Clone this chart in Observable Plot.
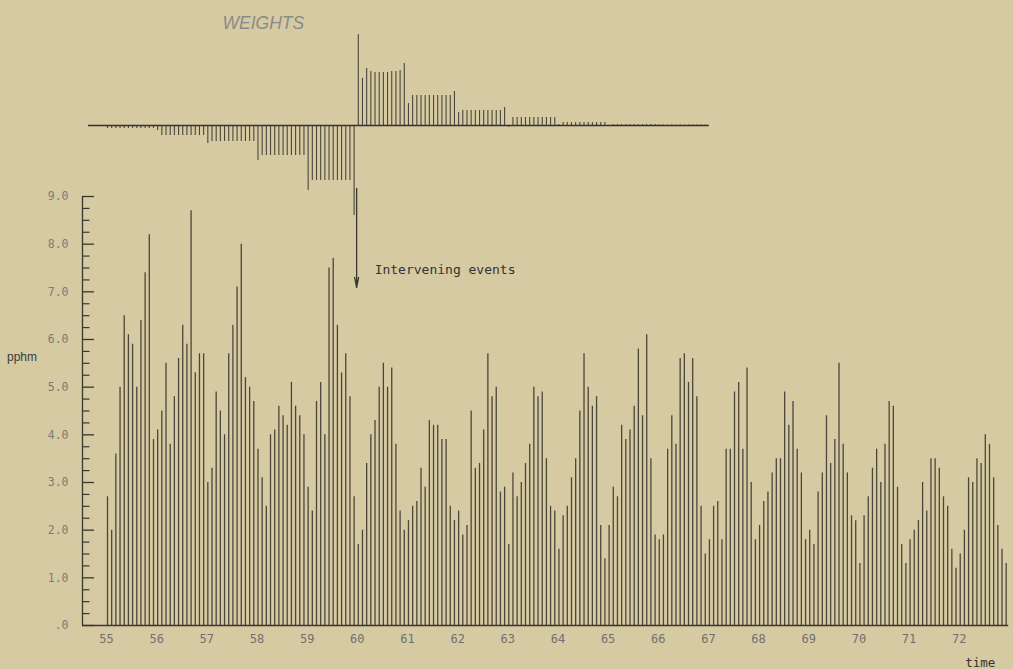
<!DOCTYPE html>
<html>
<head>
<meta charset="utf-8">
<script src="https://cdn.jsdelivr.net/npm/d3@7"></script>
<script src="https://cdn.jsdelivr.net/npm/@observablehq/plot@0.6"></script>
<style>
  html, body { margin: 0; padding: 0; background: #d6caa3; }
  #chart { position: relative; width: 1013px; height: 669px; overflow: hidden; background: #d6caa3; }
  #chart svg { position: absolute; left: 0; top: 0; }
</style>
</head>
<body>
<div id="chart"></div>
<script>
// Monthly ozone averages (pphm), Jan 1955 – Dec 1972
const oz1955 = [2.7,2.0,3.6,5.0,6.5,6.1,5.9,5.0,6.4,7.4,8.2,3.9];
const oz1956 = [4.1,4.5,5.5,3.8,4.8,5.6,6.3,5.9,8.7,5.3,5.7,5.7];
const oz1957 = [3.0,3.3,4.9,4.5,4.0,5.7,6.3,7.1,8.0,5.2,5.0,4.7];
const oz1958 = [3.7,3.1,2.5,4.0,4.1,4.6,4.4,4.2,5.1,4.6,4.4,4.0];
const oz1959 = [2.9,2.4,4.7,5.1,4.0,7.5,7.7,6.3,5.3,5.7,4.8,2.7];
const oz1960 = [1.7,2.0,3.4,4.0,4.3,5.0,5.5,5.0,5.4,3.8,2.4,2.0];
const oz1961 = [2.2,2.5,2.6,3.3,2.9,4.3,4.2,4.2,3.9,3.9,2.5,2.2];
const oz1962 = [2.4,1.9,2.1,4.5,3.3,3.4,4.1,5.7,4.8,5.0,2.8,2.9];
const oz1963 = [1.7,3.2,2.7,3.0,3.4,3.8,5.0,4.8,4.9,3.5,2.5,2.4];
const oz1964 = [1.6,2.3,2.5,3.1,3.5,4.5,5.7,5.0,4.6,4.8,2.1,1.4];
const oz1965 = [2.1,2.9,2.7,4.2,3.9,4.1,4.6,5.8,4.4,6.1,3.5,1.9];
const oz1966 = [1.8,1.9,3.7,4.4,3.8,5.6,5.7,5.1,5.6,4.8,2.5,1.5];
const oz1967 = [1.8,2.5,2.6,1.8,3.7,3.7,4.9,5.1,3.7,5.4,3.0,1.8];
const oz1968 = [2.1,2.6,2.8,3.2,3.5,3.5,4.9,4.2,4.7,3.7,3.2,1.8];
const oz1969 = [2.0,1.7,2.8,3.2,4.4,3.4,3.9,5.5,3.8,3.2,2.3,2.2];
const oz1970 = [1.3,2.3,2.7,3.3,3.7,3.0,3.8,4.7,4.6,2.9,1.7,1.3];
const oz1971 = [1.8,2.0,2.2,3.0,2.4,3.5,3.5,3.3,2.7,2.5,1.6,1.2];
const oz1972 = [1.5,2.0,3.1,3.0,3.5,3.4,4.0,3.8,3.1,2.1,1.6,1.3];

// Intervention weights (arbitrary units), Jan 1955 – Dec 1966
const w1955 = [-3,-3,-3,-3,-3,-3,-3,-3,-3,-3,-3,-3];
const w1956 = [-5,-10,-10,-10,-10,-10,-10,-10,-10,-10,-10,-10];
const w1957 = [-18,-16,-16,-16,-16,-16,-16,-16,-16,-16,-16,-16];
const w1958 = [-35,-30,-30,-30,-30,-30,-30,-30,-30,-30,-30,-30];
const w1959 = [-65,-55,-55,-55,-55,-55,-55,-55,-55,-55,-55,-90];
const w1960 = [91,47,57,54,53,53,53,53,54,54,55,62];
const w1961 = [22,30,30,30,30,30,30,30,30,30,30,34];
const w1962 = [13,15,15,15,15,15,15,15,15,15,15,18];
const w1963 = [-2,8,8,8,8,8,8,8,8,8,8,8];
const w1964 = [1,3,3,3,3,3,3,3,3,3,3,3];
const w1965 = [-1,1,1,1,1,1,1,1,1,1,1,1];
const w1966 = [0.5,0.5,0.5,0.5,0.5,0.5,0.5,0.5,0.5,0.5,0.5,0.5];

const yearLabels = ["55","56","57","58","59","60","61","62","63","64","65","66","67","68","69","70","71","72"];
const yTickValues = [0,1,2,3,4,5,6,7,8,9];
const yTickLabels = [".0","1.0","2.0","3.0","4.0","5.0","6.0","7.0","8.0","9.0"];

// annotation anchors (month index / pphm)
const INTERVENTION = 59.6;
const ARROW_TOP = 9.17, ARROW_BOTTOM = 7.09, LABEL_Y = 7.47;

const ozone = [oz1955,oz1956,oz1957,oz1958,oz1959,oz1960,oz1961,oz1962,oz1963,oz1964,oz1965,oz1966,oz1967,oz1968,oz1969,oz1970,oz1971,oz1972].flat();
const weights = [w1955,w1956,w1957,w1958,w1959,w1960,w1961,w1962,w1963,w1964,w1965,w1966].flat();
const data = ozone.map((v, i) => ({i, v}));
const wdata = weights.map((w, i) => ({i, w}));
const minorTicks = d3.range(0, 9, 0.25).filter(d => d % 1 !== 0);

const MONO = "DejaVu Sans Mono";
const BAR = "#4b463a";
const AX = "#3a372f";
const W = 1013, LEFT = 107, RIGHT = 7.3, N = ozone.length - 1;

const main = Plot.plot({
  width: W, height: 669,
  marginLeft: LEFT, marginRight: RIGHT, marginTop: 196, marginBottom: 44,
  x: {type: "linear", domain: [0, N], axis: null},
  y: {type: "linear", domain: [0, 9], axis: null},
  style: {background: "transparent", overflow: "visible"},
  marks: [
    Plot.ruleX(data, {x: "i", y1: 0, y2: "v", stroke: BAR, strokeWidth: 1.3}),
    Plot.ruleX([0], {y1: 0, y2: 9, dx: -25, stroke: AX, strokeWidth: 1.3}),
    Plot.ruleY(yTickValues, {y: d => d, x1: 0, x2: 0, dx: -25, insetRight: -12, stroke: AX, strokeWidth: 1.3}),
    Plot.ruleY(minorTicks, {y: d => d, x1: 0, x2: 0, dx: -25, insetRight: -7.5, stroke: AX, strokeWidth: 1.2}),
    Plot.ruleY([0], {x1: 0, x2: N, insetLeft: -25, insetRight: -2.5, stroke: AX, strokeWidth: 1.6}),
    Plot.text(yTickValues, {x: 0, y: d => d, text: (d, i) => yTickLabels[i], dx: -39, textAnchor: "end",
      fontFamily: MONO, fontSize: 11.5, fill: "#7a7a7a"}),
    Plot.text(yearLabels, {x: (d, i) => i * 12, y: 0, dy: 14, text: d => d, dx: -1,
      fontFamily: MONO, fontSize: 12, fill: "#707070"}),
    Plot.text(["pphm"], {x: 0, y: 5.62, dx: -85.5, text: d => d, fontFamily: "Liberation Sans", fontSize: 12, fill: "#3a3a3a"}),
    Plot.text(["time"], {x: N, y: 0, dx: -26, dy: 37, text: d => d, fontFamily: MONO, fontSize: 12.5, fill: "#333"}),
    Plot.arrow([INTERVENTION], {x1: d => d, x2: d => d, y1: ARROW_TOP, y2: ARROW_BOTTOM,
      headLength: 12, headAngle: 22, stroke: AX, strokeWidth: 1.3}),
    Plot.text(["Intervening events"], {x: INTERVENTION, y: LABEL_Y, dx: 18, text: d => d, textAnchor: "start",
      fontFamily: MONO, fontSize: 13, fill: "#333"})
  ]
});

const wplot = Plot.plot({
  width: W, height: 300,
  marginLeft: LEFT, marginRight: RIGHT, marginTop: 0, marginBottom: 0,
  x: {type: "linear", domain: [0, N], axis: null},
  y: {type: "linear", domain: [-175, 125], axis: null},
  style: {background: "transparent", overflow: "visible"},
  marks: [
    Plot.ruleX(wdata, {x: "i", y1: 0, y2: "w", stroke: "#4a463c", strokeWidth: 1.1}),
    Plot.ruleY([0], {x1: 0, x2: weights.length, insetLeft: -19, stroke: "#333", strokeWidth: 1.6}),
    Plot.text(["WEIGHTS"], {frameAnchor: "top-left", dx: 115, dy: 16.5, text: d => d, textAnchor: "start",
      fontFamily: "Liberation Sans", fontStyle: "italic", fontSize: 17.5, fill: "#8a8a8a"})
  ]
});

const chart = document.getElementById("chart");
chart.appendChild(main);
chart.appendChild(wplot);
</script>
</body>
</html>
